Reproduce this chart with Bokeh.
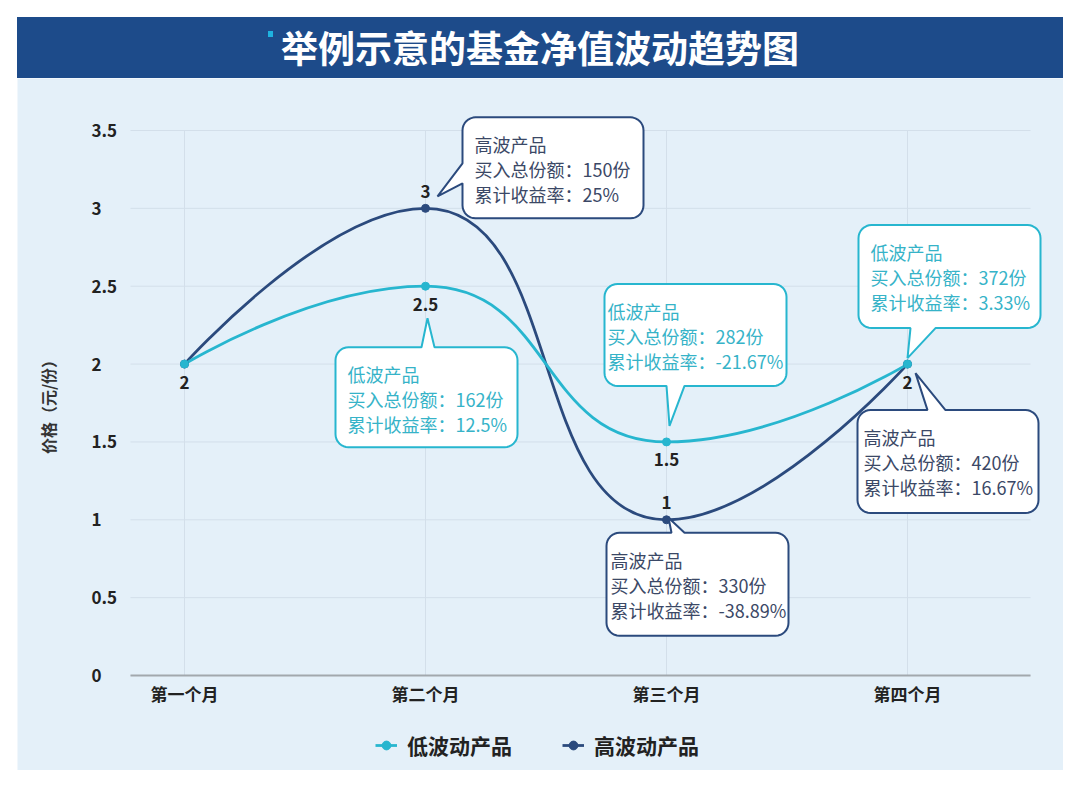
import math
from bokeh.plotting import figure
from bokeh.models import Div, Legend, LegendItem, Range1d, ColumnDataSource
from bokeh.layouts import column
from bokeh.embed import file_html
from bokeh.resources import INLINE
from bokeh.core.properties import value

# ---------------- data ----------------
title_text = "举例示意的基金净值波动趋势图"
months = ["第一个月", "第二个月", "第三个月", "第四个月"]
series_names = ["低波动产品", "高波动产品"]
callout_titles = ["低波产品", "高波产品"]
low_values = [2, 2.5, 1.5, 2]
high_values = [2, 3, 1, 2]
low_shares = [None, 162, 282, 372]
low_returns = [None, 12.5, -21.67, 3.33]
high_shares = [None, 150, 330, 420]
high_returns = [None, 25, -38.89, 16.67]
y_ticks = [0, 0.5, 1, 1.5, 2, 2.5, 3, 3.5]
y_axis_title = "价格（元/份）"

# ---------------- style / layout ----------------
FONT = "Noto Sans CJK SC"
PANEL = "#e4f0f9"
HEADER = "#1d4b8a"
LOW_C = "#27b6cf"
HIGH_C = "#2b4a7d"
LOW_TXT = "#36b3c8"
HIGH_TXT = "#3b4866"
GRID = "#d3dfea"
AXIS_C = "#a2a8ad"
LABEL_C = "#222222"

OFF = 17                    # white margin left/top of the panel
PANEL_W, PANEL_H = 1046, 692
UX = 241.0                  # px per month
UY = 545.0 / 3.5            # px per unit of price
ORIGIN_X, ORIGIN_Y = 167, 597          # pixel position of (month 0, price 0) inside the panel
X_START = -ORIGIN_X / UX
X_END = (PANEL_W - ORIGIN_X) / UX
Y_END = ORIGIN_Y / UY
Y_START = -(PANEL_H - ORIGIN_Y) / UY
AXIS_LEFT = -54.0 / UX
AXIS_RIGHT = 846.0 / UX
YLAB_X = -93.0 / UX
YTITLE_X = -137.0 / UX

p = figure(width=PANEL_W + OFF, height=PANEL_H,
           x_range=Range1d(X_START, X_END), y_range=Range1d(Y_START, Y_END),
           x_axis_location=None, y_axis_location=None,
           output_backend="svg", toolbar_location=None,
           min_border_left=OFF, min_border_right=0, min_border_top=0, min_border_bottom=0,
           background_fill_color=PANEL, border_fill_color="white", outline_line_color=None)
p.grid.visible = False

xticks = list(range(len(months)))
# grid lines
p.segment(x0=[AXIS_LEFT] * len(y_ticks), y0=y_ticks, x1=[AXIS_RIGHT] * len(y_ticks), y1=y_ticks,
          line_color=GRID, line_width=1)
p.segment(x0=xticks, y0=[y_ticks[0]] * len(xticks), x1=xticks, y1=[y_ticks[-1]] * len(xticks),
          line_color=GRID, line_width=1)
# baseline (x axis line)
p.segment(x0=[AXIS_LEFT], y0=[y_ticks[0]], x1=[AXIS_RIGHT], y1=[y_ticks[0]],
          line_color=AXIS_C, line_width=2.2)

# tick labels
p.text(x=xticks, y=[y_ticks[0]] * len(xticks), text=months, y_offset=18,
       text_font=value(FONT), text_font_size="17px", text_font_style="bold",
       text_color=LABEL_C, text_align="center", text_baseline="middle")
p.text(x=[YLAB_X] * len(y_ticks), y=y_ticks, text=[f"{t:g}" for t in y_ticks],
       text_font=value(FONT), text_font_size="17px", text_font_style="bold",
       text_color=LABEL_C, text_align="left", text_baseline="middle")
p.text(x=[YTITLE_X], y=[(y_ticks[0] + y_ticks[-1]) / 2], text=[y_axis_title], angle=math.pi / 2,
       text_font=value(FONT), text_font_size="16px", text_font_style="bold",
       text_color="#333333", text_align="center", text_baseline="middle")


def smooth_segments(xs, ys, smooth=0.5):
    """Cubic bezier control points (echarts-like smoothing) computed in pixel space."""
    px = [x * UX for x in xs]
    py = [-y * UY for y in ys]
    n = len(px)
    out = {k: [] for k in ("x0", "y0", "x1", "y1", "cx0", "cy0", "cx1", "cy1")}
    c0x, c0y = px[0], py[0]
    for i in range(1, n):
        x, y = px[i], py[i]
        prx, pry = px[i - 1], py[i - 1]
        if i == n - 1:
            c1x, c1y, nx0, ny0 = x, y, x, y
        else:
            nx, ny = px[i + 1], py[i + 1]
            vx, vy = nx - prx, ny - pry
            d0 = math.hypot(x - prx, y - pry)
            d1 = math.hypot(nx - x, ny - y)
            r = d1 / (d0 + d1)
            nx0 = x + vx * smooth * r
            ny0 = y + vy * smooth * r
            nx0 = max(min(nx0, max(nx, x)), min(nx, x))
            ny0 = max(min(ny0, max(ny, y)), min(ny, y))
            vx, vy = nx0 - x, ny0 - y
            c1x = x - vx * d0 / d1
            c1y = y - vy * d0 / d1
            c1x = max(min(c1x, max(prx, x)), min(prx, x))
            c1y = max(min(c1y, max(pry, y)), min(pry, y))
            vx, vy = x - c1x, y - c1y
            nx0 = x + vx * d1 / d0
            ny0 = y + vy * d1 / d0
        out["x0"].append(prx / UX); out["y0"].append(-pry / UY)
        out["x1"].append(x / UX); out["y1"].append(-y / UY)
        out["cx0"].append(c0x / UX); out["cy0"].append(-c0y / UY)
        out["cx1"].append(c1x / UX); out["cy1"].append(-c1y / UY)
        c0x, c0y = nx0, ny0
    return out


high_curve = p.bezier(source=ColumnDataSource(smooth_segments(xticks, high_values)),
                      x0="x0", y0="y0", x1="x1", y1="y1", cx0="cx0", cy0="cy0", cx1="cx1", cy1="cy1",
                      line_color=HIGH_C, line_width=2.8)
low_curve = p.bezier(source=ColumnDataSource(smooth_segments(xticks, low_values)),
                     x0="x0", y0="y0", x1="x1", y1="y1", cx0="cx0", cy0="cy0", cx1="cx1", cy1="cy1",
                     line_color=LOW_C, line_width=2.8)
high_pts = p.scatter(xticks, high_values, size=8, color=HIGH_C)
low_pts = p.scatter(xticks, low_values, size=8, color=LOW_C)

# value labels
lab_x, lab_y, lab_t, lab_off = [], [], [], []
for i, v in enumerate(low_values):
    lab_x.append(i); lab_y.append(v); lab_t.append(f"{v:g}"); lab_off.append(18)
for i, v in enumerate(high_values):
    if v != low_values[i]:
        lab_x.append(i); lab_y.append(v); lab_t.append(f"{v:g}"); lab_off.append(-17)
p.text(x=lab_x, y=lab_y, text=lab_t, y_offset=lab_off, x_offset=0,
       text_font=value(FONT), text_font_size="17px", text_font_style="bold",
       text_color=LABEL_C, text_align="center", text_baseline="middle")

# callouts: geometry in pixels relative to the anchor point (screen y downwards)
callouts = [
    dict(s=1, i=1, box=(37, -91, 181, 101), side="left", tail=(-45, -25), tip=(12, -12), tdx=12),
    dict(s=0, i=1, box=(-90, 61, 182, 100), side="top", tail=(-4, 9), tip=(2, 32), tdx=12),
    dict(s=0, i=2, box=(-62, -158, 182, 102), side="bottom", tail=(0, 18), tip=(3, -16), tdx=3),
    dict(s=0, i=3, box=(-49, -139, 182, 103), side="bottom", tail=(3, 28), tip=(0, -6), tdx=12),
    dict(s=1, i=3, box=(-50, 46, 181, 103), side="top", tail=(20, 38), tip=(8, 9), tdx=6),
    dict(s=1, i=2, box=(-60, 13, 182, 103), side="top", tail=(5, 18), tip=(2, -2), tdx=4),
]


def bubble(left, top, w, h, r, side, a, b, tip):
    pts = []
    right, bottom = left + w, top + h

    def arc(cx, cy, a0, a1):
        for k in range(9):
            t = math.radians(a0 + (a1 - a0) * k / 8)
            pts.append((cx + r * math.cos(t), cy + r * math.sin(t)))
    arc(left + r, top + r, 180, 270)
    if side == "top":
        pts += [(a, top), tip, (b, top)]
    arc(right - r, top + r, 270, 360)
    if side == "right":
        pts += [(right, a), tip, (right, b)]
    arc(right - r, bottom - r, 0, 90)
    if side == "bottom":
        pts += [(b, bottom), tip, (a, bottom)]
    arc(left + r, bottom - r, 90, 180)
    if side == "left":
        pts += [(left, b), tip, (left, a)]
    return pts


series_vals = [low_values, high_values]
series_shares = [low_shares, high_shares]
series_returns = [low_returns, high_returns]
series_line = [LOW_C, HIGH_C]
series_txt = [LOW_TXT, HIGH_TXT]

bx, by, bc = [], [], []
tx, ty, tt, tc = [], [], [], []
for c in callouts:
    s, i = c["s"], c["i"]
    ax, ay = i, series_vals[s][i]
    left, top, w, h = c["box"]
    pts = bubble(left, top, w, h, 13, c["side"], c["tail"][0], c["tail"][1], c["tip"])
    bx.append([ax + px_ / UX for px_, _ in pts])
    by.append([ay - py_ / UY for _, py_ in pts])
    bc.append(series_line[s])
    lines = [callout_titles[s],
             f"买入总份额：{series_shares[s][i]}份",
             f"累计收益率：{series_returns[s][i]:g}%"]
    for k, line in enumerate(lines):
        tx.append(ax + (left + c["tdx"]) / UX)
        ty.append(ay - (top + 27 + 25 * k) / UY)
        tt.append(line)
        tc.append(series_txt[s])

p.patches(xs=bx, ys=by, fill_color="white", line_color=bc, line_width=2)
p.text(x=tx, y=ty, text=tt, text_color=tc, text_font=value(FONT), text_font_size="18px",
       text_align="left", text_baseline="middle")

legend = Legend(items=[LegendItem(label=series_names[0], renderers=[low_curve, low_pts]),
                       LegendItem(label=series_names[1], renderers=[high_curve, high_pts])],
                orientation="horizontal", location=(358, 10),
                label_text_font=FONT, label_text_font_size="21px", label_text_font_style="bold",
                label_text_color=LABEL_C, glyph_width=22, glyph_height=24, label_height=24,
                label_standoff=10, spacing=50, padding=0, margin=0,
                background_fill_alpha=0, border_line_alpha=0)
p.add_layout(legend, "center")

header = Div(
    text=(f'<div style="margin:{OFF}px 0 0 0;width:{PANEL_W}px;height:61px;background-color:{HEADER};'
          f'color:white;font-family:\'{FONT}\';font-size:37px;font-weight:bold;text-align:center;'
          f'line-height:61px;">'
          f'<span style="display:inline-block;width:5px;height:6px;background:#1fb3e0;'
          f'vertical-align:top;margin-top:14px;margin-left:-13px;margin-right:8px"></span>'
          f'{title_text}</div>'),
    width=PANEL_W + OFF, height=61 + OFF,
    styles={"margin": "0", "padding": "0", "padding-left": f"{OFF}px"})

layout = column(header, p, spacing=0)

with open("out.html", "w") as f:
    f.write(file_html(layout, INLINE))
